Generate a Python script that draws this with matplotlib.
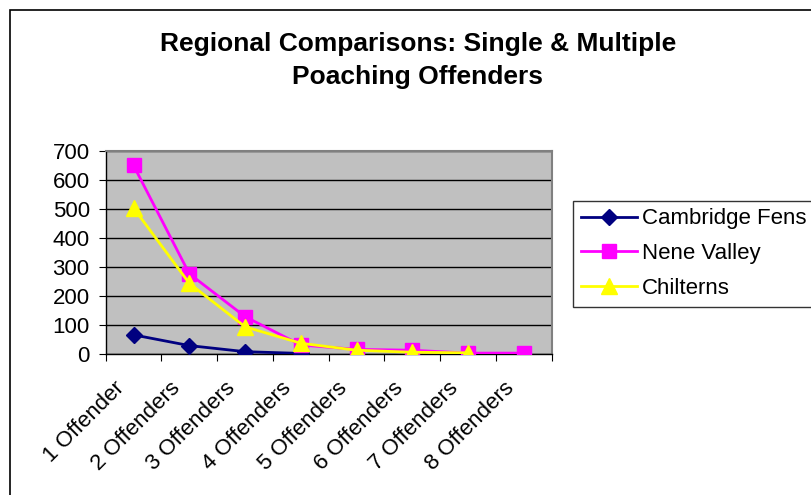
import matplotlib
matplotlib.use("Agg")
import matplotlib.pyplot as plt
from matplotlib.patches import Rectangle
from matplotlib.transforms import ScaledTranslation

plt.rcParams['font.family'] = ['Liberation Sans', 'DejaVu Sans']

categories = ["1 Offender", "2 Offenders", "3 Offenders", "4 Offenders",
              "5 Offenders", "6 Offenders", "7 Offenders", "8 Offenders"]
cambridge_fens = [65, 28, 7, 1]
nene_valley = [650, 276, 128, 30, 15, 12, 2, 2]
chilterns = [503, 243, 93, 36, 12, 5, 3]
y_ticks = [0, 100, 200, 300, 400, 500, 600, 700]

W, H = 811, 495
fig = plt.figure(figsize=(W / 100, H / 100), dpi=100)
fig.patch.set_facecolor("white")

# outer chart border
fig.patches.append(Rectangle((10 / W, -0.1), 1.2, 1 - 10 / H + 0.1,
                             transform=fig.transFigure, fill=False,
                             edgecolor="black", linewidth=1.2))

ax = fig.add_axes([105.7 / W, 1 - 353.7 / H, (551.7 - 105.7) / W, (353.7 - 151) / H])
ax.set_facecolor("#c0c0c0")

x = list(range(len(categories)))
ax.plot(x[:len(cambridge_fens)], cambridge_fens, color="#000080", marker="D",
        markersize=8, linewidth=2, label="Cambridge Fens", zorder=3)
ax.plot(x[:len(nene_valley)], nene_valley, color="#ff00ff", marker="s",
        markersize=10.5, linewidth=2, label="Nene Valley", zorder=4)
ax.plot(x[:len(chilterns)], chilterns, color="#ffff00", marker="^",
        markersize=11, linewidth=2, label="Chilterns", zorder=5)

ax.set_xlim(-0.5, len(categories) - 0.5)
ax.set_ylim(0, 700)
ax.set_yticks(y_ticks)
ax.set_yticklabels([str(v) for v in y_ticks], fontsize=16)
ax.yaxis.grid(True, color="black", linewidth=1)
ax.set_axisbelow(True)

ax.set_xticks([i + 0.5 for i in range(-1, len(categories))])
ax.set_xticklabels([])
ax.set_xticks(x, minor=True)
ax.set_xticklabels(categories, minor=True, rotation=45, ha="right",
                   rotation_mode="anchor", fontsize=16)
ax.tick_params(axis="x", which="minor", length=0, pad=17)
ax.tick_params(axis="x", which="major", length=5, direction="out")
ax.tick_params(axis="y", length=5, direction="out", pad=6.5)
off = ScaledTranslation(-20 / 100, 0, fig.dpi_scale_trans)
for lbl in ax.get_xticklabels(minor=True):
    lbl.set_transform(lbl.get_transform() + off)

for side in ["top", "right"]:
    ax.spines[side].set_color("#808080")
    ax.spines[side].set_linewidth(1.5)
for side in ["left", "bottom"]:
    ax.spines[side].set_color("black")
    ax.spines[side].set_linewidth(1)

fig.text(418 / W, 1 - 44 / H, "Regional Comparisons: Single & Multiple",
         ha="center", va="center", fontsize=19, fontweight="bold")
fig.text(418 / W, 1 - 77 / H, "Poaching Offenders",
         ha="center", va="center", fontsize=19, fontweight="bold")

leg = fig.legend(loc="upper left", bbox_to_anchor=(573.3 / W, 1 - 200.7 / H),
                 fontsize=16, frameon=True, fancybox=False, edgecolor="black",
                 borderpad=0.35, handlelength=2.5, handletextpad=0.23,
                 labelspacing=0.62, borderaxespad=0)
leg.get_frame().set_linewidth(1)

fig.savefig("out.png", dpi=100)
